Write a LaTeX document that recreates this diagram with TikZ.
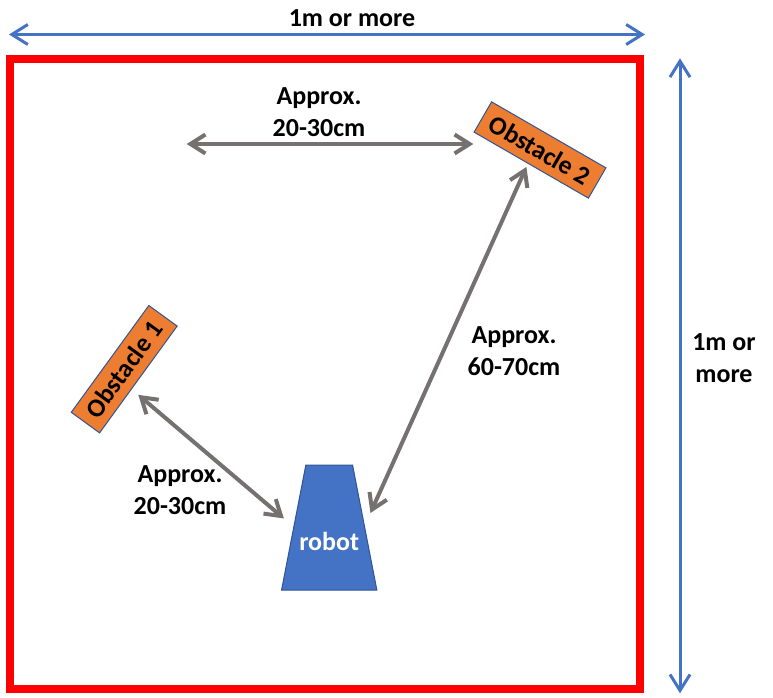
\documentclass[tikz,border=0pt]{standalone}
\usepackage{fontspec}
\setmainfont{Carlito}
\usetikzlibrary{arrows.meta,shapes.geometric}
\definecolor{frame}{HTML}{FF0000}
\definecolor{arrblue}{HTML}{4472C4}
\definecolor{arrgray}{HTML}{767171}
\definecolor{obsorange}{HTML}{ED7D31}
\definecolor{edgeblue}{HTML}{2F5597}
\begin{document}
\begin{tikzpicture}[x=1pt,y=1pt,
  lbl/.style={font=\fontsize{26}{32}\selectfont\bfseries, align=center, inner sep=0pt},
  bluearrow/.style={draw=arrblue, line width=3pt,
    {Straight Barb[length=16pt,width=20pt]}-{Straight Barb[length=16pt,width=20pt]}},
  grayarrow/.style={draw=arrgray, line width=4pt,
    {Straight Barb[length=15pt,width=19pt]}-{Straight Barb[length=15pt,width=19pt]}},
  obst/.style={draw=edgeblue, fill=obsorange, line width=1pt, minimum width=132pt,
    minimum height=35pt, inner sep=0pt, outer sep=0pt,
    font=\fontsize{26}{30}\selectfont\bfseries},
  robotbox/.style={trapezium, trapezium left angle=79, trapezium right angle=79,
    draw=edgeblue, fill=arrblue, line width=1pt, inner sep=0pt, outer sep=0pt,
    text=white, font=\fontsize{26}{30}\selectfont\bfseries}]
\useasboundingbox (0,0) rectangle (773,697);
% field frame
\node (field) [draw=frame, line width=8pt, minimum width=630pt, minimum height=630pt,
  inner sep=0pt, outer sep=0pt] at (325,323) {};
% dimension arrows
\coordinate (tl) at (9,662.5);
\coordinate (tr) at (645,662.5);
\draw[bluearrow] (tl) -- (tr);
\node (toplbl) [lbl, anchor=base] at (352,670.5) {1m or more};
\coordinate (vt) at (680,638.7);
\coordinate (vb) at (680,3.7);
\draw[bluearrow] (vt) -- (vb);
\node (rightlbl) [lbl] at (724,339.2) {1m or\\more};
% obstacles and robot
\node (obs2) [obst, rotate=-30] at (540,547) {Obstacle 2};
\node (obs1) [obst, rotate=54] at (124.2,327.8) {Obstacle 1};
\node (robot) [robotbox] at (329.2,169.5) {\raisebox{0pt}[85pt][40pt]{\makebox[46.7pt]{robot}}};
% distance arrows
\coordinate (gl) at (186.7,553);
\coordinate (gr) at (473.3,553);
\draw[grayarrow] (gl) -- (gr);
\node (lbltop) [lbl] at (319,584.5) {Approx.\\20-30cm};
\draw[grayarrow, shorten <=9pt, shorten >=13pt] (obs1.236) -- (robot.179);
\node (lblobs1) [lbl] at (180,206.5) {Approx.\\20-30cm};
\draw[grayarrow, shorten <=4pt, shorten >=14.6pt] (obs2.258) -- (robot.2);
\node (lblobs2) [lbl] at (514,346.2) {Approx.\\60-70cm};
\end{tikzpicture}
\end{document}
